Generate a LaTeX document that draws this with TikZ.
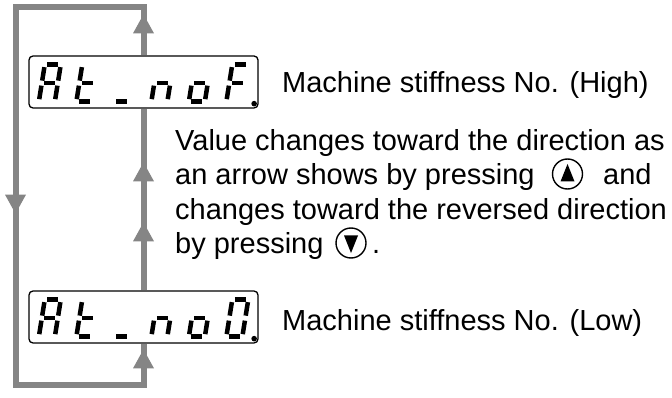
\documentclass[tikz,border=0pt]{standalone}
\usepackage{fontspec}
\setmainfont{Liberation Sans}
\usepackage{tikz}
\usetikzlibrary{positioning,arrows.meta,decorations.markings,backgrounds}
\definecolor{loopgray}{HTML}{858585}
\tikzset{
  disp/.style={draw,rounded corners=4pt,fill=white,line width=1.3pt,minimum width=229pt,minimum height=52pt,inner sep=0pt},
  loopline/.style={draw=loopgray,line width=6pt},
  txt/.style={anchor=base west,inner sep=0pt,font=\fontsize{29}{34.5}\selectfont},
  keybtn/.style={draw,circle,line width=1.4pt,minimum size=30pt,inner sep=0pt},
  seg/.style={line width=4.5pt},
  seg a/.style={insert path={(2.5,-37) -- (13.5,-37)}},
  seg b/.style={insert path={(16,-34.5) -- (16,-21)}},
  seg c/.style={insert path={(16,-16) -- (16,-2.5)}},
  seg d/.style={insert path={(2.5,0) -- (13.5,0)}},
  seg e/.style={insert path={(0,-2.5) -- (0,-16)}},
  seg f/.style={insert path={(0,-21) -- (0,-34.5)}},
  seg g/.style={insert path={(2.5,-18.5) -- (13.5,-18.5)}},
  upmarks/.style={postaction={decorate},decoration={markings,
    mark=at position 68pt with {\arrow{>}},
    mark=at position 128pt with {\arrow{>}}}},
  wrapmarks/.style={postaction={decorate},decoration={markings,
    mark=at position 41pt with {\arrow{>}},
    mark=at position 383pt with {\arrow{>}},
    mark=at position 718pt with {\arrow{>}}}}
}
% one 7-segment digit in a display box: box, slot, segments
\newcommand{\segdigit}[3]{%
  \begin{scope}[shift={(#1.south west)},xshift={10.5pt+37.5pt*#2},yshift=7pt,xslant=0.16]
    \foreach \s in {#3} {\draw[seg,seg \s];}
  \end{scope}}

\begin{document}
\begin{tikzpicture}[x=1pt,y=-1pt,>={Triangle[width=21pt,length=19pt,line width=0pt]}]
\useasboundingbox (0,0) rectangle (672,398);

\node[disp] (high) at (143.5,82) {};
\node[disp] (low) at (143.5,317) {};

% High display: At_noF.
\segdigit{high}{0}{a,b,c,e,f,g}
\segdigit{high}{1}{d,e,f,g}
\segdigit{high}{2}{d}
\segdigit{high}{3}{c,e,g}
\segdigit{high}{4}{c,d,e,g}
\segdigit{high}{5}{a,e,f,g}
\fill ([xshift=-4.5pt,yshift=5pt]high.south east) circle (2.8pt);

% Low display: At_no0.
\segdigit{low}{0}{a,b,c,e,f,g}
\segdigit{low}{1}{d,e,f,g}
\segdigit{low}{2}{d}
\segdigit{low}{3}{c,e,g}
\segdigit{low}{4}{c,d,e,g}
\segdigit{low}{5}{a,b,c,d,e,f}
\fill ([xshift=-4.5pt,yshift=5pt]low.south east) circle (2.8pt);

\coordinate (tl) at (15.5,7);
\coordinate (bl) at (15.5,385);
\begin{scope}[on background layer]
\draw[loopline,upmarks] (low.north) -- (high.south);
\draw[loopline,wrapmarks] (high.north) |- (tl) -- (bl) -| (low.south);
\end{scope}

\node[txt] (highlbl) at (282,93) {Machine stiffness No. (High)};
\node[txt] (lowlbl) at (282,330) {Machine stiffness No. (Low)};

\node[txt] (line1) at (175,150.5) {Value changes toward the direction as};
\node[txt] (line2) at (175,185) {an arrow shows by pressing};
\node[keybtn] (upkey) at (567.5,174) {};
\fill (upkey.center) ++(0,-10) -- ++(7,17.5) -- ++(-14,0) -- cycle;
\node[txt] (line2b) at (603,185) {and};
\node[txt] (line3) at (175,219.5) {changes toward the reversed direction};
\node[txt] (line4) at (175,254) {by pressing};
\node[keybtn] (downkey) at (351,243) {};
\fill (downkey.center) ++(0,10) -- ++(7,-17.5) -- ++(-14,0) -- cycle;
\node[txt] (line4b) at (372,254) {.};
\end{tikzpicture}
\end{document}
